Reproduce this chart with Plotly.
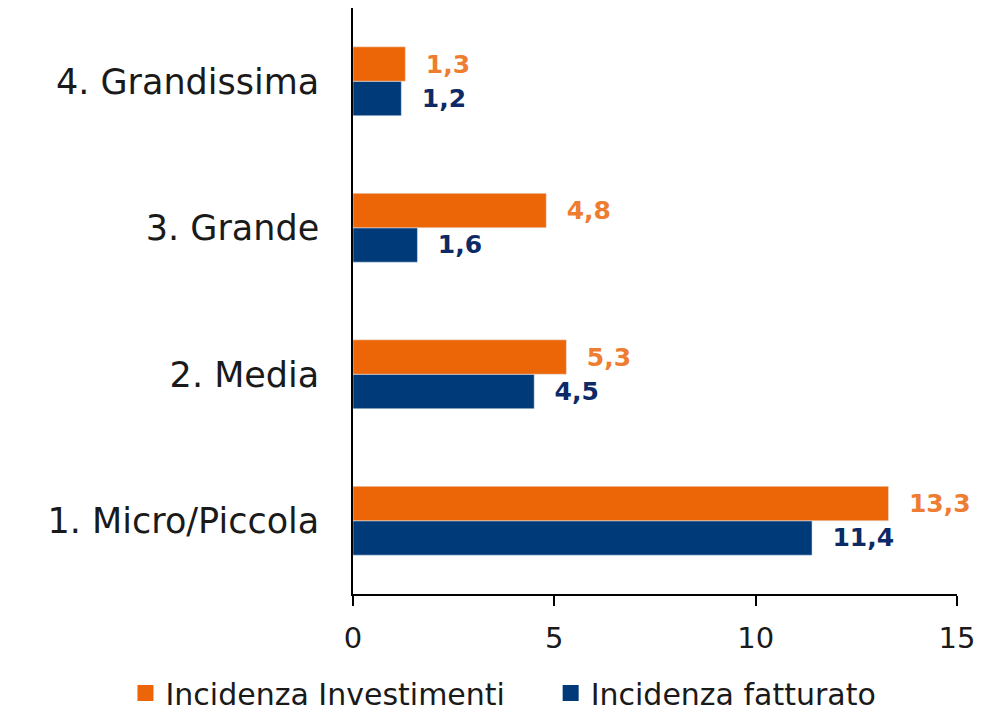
import plotly.graph_objects as go

categories = ["1. Micro/Piccola", "2. Media", "3. Grande", "4. Grandissima"]
investimenti = [13.3, 5.3, 4.8, 1.3]
fatturato = [11.4, 4.5, 1.6, 1.2]
x_ticks = [0, 5, 10, 15]

ORANGE = "#EC6607"
ORANGE_TXT = "#EE7D31"
BLUE = "#003A78"
BLUE_TXT = "#0D2A66"
FONT = "DejaVu Sans"
pad = "\u00a0\u00a0"

fig = go.Figure()
fig.add_trace(go.Bar(
    y=categories, x=fatturato, orientation="h", name="Incidenza fatturato",
    marker_color=BLUE, texttemplate=pad + "%{x:.1f}", textposition="outside",
    textfont=dict(family=FONT, size=25, color=BLUE_TXT, weight="bold"),
    cliponaxis=False, showlegend=False,
))
fig.add_trace(go.Bar(
    y=categories, x=investimenti, orientation="h", name="Incidenza Investimenti",
    marker_color=ORANGE, texttemplate=pad + "%{x:.1f}", textposition="outside",
    textfont=dict(family=FONT, size=25, color=ORANGE_TXT, weight="bold"),
    cliponaxis=False, showlegend=False,
))
# legend entries with larger square symbols, each in its own legend
fig.add_trace(go.Scatter(
    x=[None], y=[None], mode="markers", name="Incidenza Investimenti",
    marker=dict(symbol="square", size=17, color=ORANGE), legend="legend",
))
fig.add_trace(go.Scatter(
    x=[None], y=[None], mode="markers", name="Incidenza fatturato",
    marker=dict(symbol="square", size=17, color=BLUE), legend="legend2",
))

leg_common = dict(orientation="h", xref="container", yref="container",
                  xanchor="left", yanchor="middle", y=0.038,
                  font=dict(size=30, family=FONT, color="#1a1a1a"),
                  itemwidth=30, bgcolor="rgba(0,0,0,0)")

fig.update_layout(
    width=1004, height=712,
    margin=dict(l=345, r=55, t=0, b=126),
    barmode="group", bargap=0.53, bargroupgap=0,
    separators=",.",
    paper_bgcolor="white", plot_bgcolor="white",
    font=dict(family=FONT, size=25, color="#1a1a1a"),
    showlegend=True,
    legend=dict(x=0.117, **leg_common),
    legend2=dict(x=0.5405, **leg_common),
    xaxis=dict(range=[0, 15], tickvals=x_ticks, showgrid=False, zeroline=False,
               showline=True, linecolor="#000", linewidth=1.5,
               ticks="outside", ticklen=10, tickcolor="#000", tickwidth=1.5,
               tickfont=dict(size=29, family=FONT, color="#1a1a1a"),
               ticklabelstandoff=7, automargin=False),
    yaxis=dict(showgrid=False, zeroline=False, showline=True, linecolor="#000",
               linewidth=1.5, ticks="", tickfont=dict(size=35, family=FONT, color="#1a1a1a"),
               ticklabelstandoff=25, automargin=False),
)

fig.write_html("out.html")
